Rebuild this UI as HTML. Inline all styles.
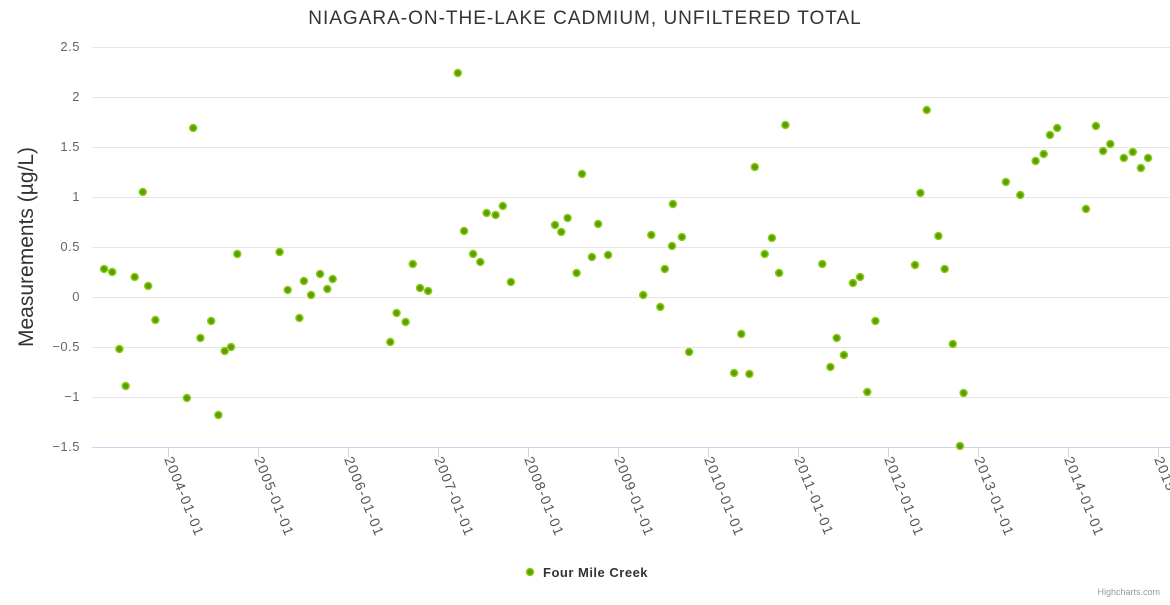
<!DOCTYPE html>
<html><head><meta charset="utf-8"><style>
body{margin:0;background:#fff;}
svg{font-family:"Liberation Sans",sans-serif;}
</style></head><body>
<svg id="c" width="1170" height="600">
<text x="585" y="24" text-anchor="middle" font-size="19" letter-spacing="1" fill="#333">NIAGARA-ON-THE-LAKE CADMIUM, UNFILTERED TOTAL</text>
<text transform="translate(33,247) rotate(-90)" text-anchor="middle" font-size="21" fill="#333">Measurements (µg/L)</text>
<g id="grid"></g><g id="pts"></g>
<g><circle cx="530" cy="572" r="3.5" fill="#5a9e00" stroke="#8ccc1a" stroke-width="1.5"/><text x="543" y="577" font-size="13" letter-spacing="0.5" font-weight="bold" fill="#333">Four Mile Creek</text></g>
<text x="1160" y="595" text-anchor="end" font-size="9" fill="#999">Highcharts.com</text>
</svg>
<script>
const yTicks=[2.5,2,1.5,1,0.5,0,-0.5,-1,-1.5];
const yTickLabels=["2.5","2","1.5","1","0.5","0","−0.5","−1","−1.5"];
const xTicks=[2004,2005,2006,2007,2008,2009,2010,2011,2012,2013,2014,2015];
const xTickLabels=["2004-01-01","2005-01-01","2006-01-01","2007-01-01","2008-01-01","2009-01-01","2010-01-01","2011-01-01","2012-01-01","2013-01-01","2014-01-01","2015-01-01"];
const dates=[2003.29,2003.38,2003.46,2003.53,2003.63,2003.72,2003.78,2003.86,2004.21,2004.28,2004.36,2004.48,2004.56,2004.63,2004.70,2004.77,2005.24,2005.33,2005.46,2005.51,2005.59,2005.69,2005.77,2005.83,2006.47,2006.54,2006.64,2006.72,2006.80,2006.89,2007.22,2007.29,2007.39,2007.47,2007.54,2007.64,2007.72,2007.81,2008.30,2008.37,2008.44,2008.54,2008.60,2008.71,2008.78,2008.89,2009.28,2009.37,2009.47,2009.52,2009.60,2009.61,2009.71,2009.79,2010.29,2010.37,2010.46,2010.52,2010.63,2010.71,2010.79,2010.86,2011.27,2011.36,2011.43,2011.51,2011.61,2011.69,2011.77,2011.86,2012.30,2012.36,2012.43,2012.56,2012.63,2012.72,2012.80,2012.84,2013.31,2013.47,2013.64,2013.73,2013.80,2013.88,2014.20,2014.31,2014.39,2014.47,2014.62,2014.72,2014.81,2014.89];
const values=[0.28,0.25,-0.52,-0.89,0.2,1.05,0.11,-0.23,-1.01,1.69,-0.41,-0.24,-1.18,-0.54,-0.5,0.43,0.45,0.07,-0.21,0.16,0.02,0.23,0.08,0.18,-0.45,-0.16,-0.25,0.33,0.09,0.06,2.24,0.66,0.43,0.35,0.84,0.82,0.91,0.15,0.72,0.65,0.79,0.24,1.23,0.4,0.73,0.42,0.02,0.62,-0.1,0.28,0.51,0.93,0.6,-0.55,-0.76,-0.37,-0.77,1.3,0.43,0.59,0.24,1.72,0.33,-0.7,-0.41,-0.58,0.14,0.2,-0.95,-0.24,0.32,1.04,1.87,0.61,0.28,-0.47,-1.49,-0.96,1.15,1.02,1.36,1.43,1.62,1.69,0.88,1.71,1.46,1.53,1.39,1.45,1.29,1.39];
const NS="http://www.w3.org/2000/svg";
const X0=92,X1=1170;
const xs=v=>168+(v-2004)*90;
const ys=v=>297-v*100;
function mk(t,a,p){const e=document.createElementNS(NS,t);for(const k in a)e.setAttribute(k,a[k]);p.appendChild(e);return e;}
const g=document.getElementById('grid');
yTicks.forEach((t,i)=>{
 const l=mk('line',{x1:X0,x2:X1,y1:ys(t)+0.5,y2:ys(t)+0.5,stroke:t===-1.5?'#ccd6eb':'#e6e6e6'},g);
 
 
 const tx=mk('text',{x:80,y:ys(t)+4,'text-anchor':'end','font-size':13,'letter-spacing':0.5,fill:'#666'},g);
 tx.textContent=yTickLabels[i];
 
 
});
xTicks.forEach((t,i)=>{
 const x=xs(t);
 const l=mk('line',{x1:x+0.5,x2:x+0.5,y1:447,y2:457,stroke:'#ccd6eb'},g);
 
 
 const tx=mk('text',{transform:`translate(${x-4},${459}) rotate(68)`,'font-size':14,'letter-spacing':1.3,fill:'#555'},g);
 tx.textContent=xTickLabels[i];
 
 
});
const p=document.getElementById('pts');
dates.forEach((d,i)=>{
 const c=mk('circle',{cx:xs(d),cy:ys(values[i]),r:3.5,fill:'#5a9e00',stroke:'#8ccc1a','stroke-width':1.5},p);
 
 
});
</script>
</body></html>
